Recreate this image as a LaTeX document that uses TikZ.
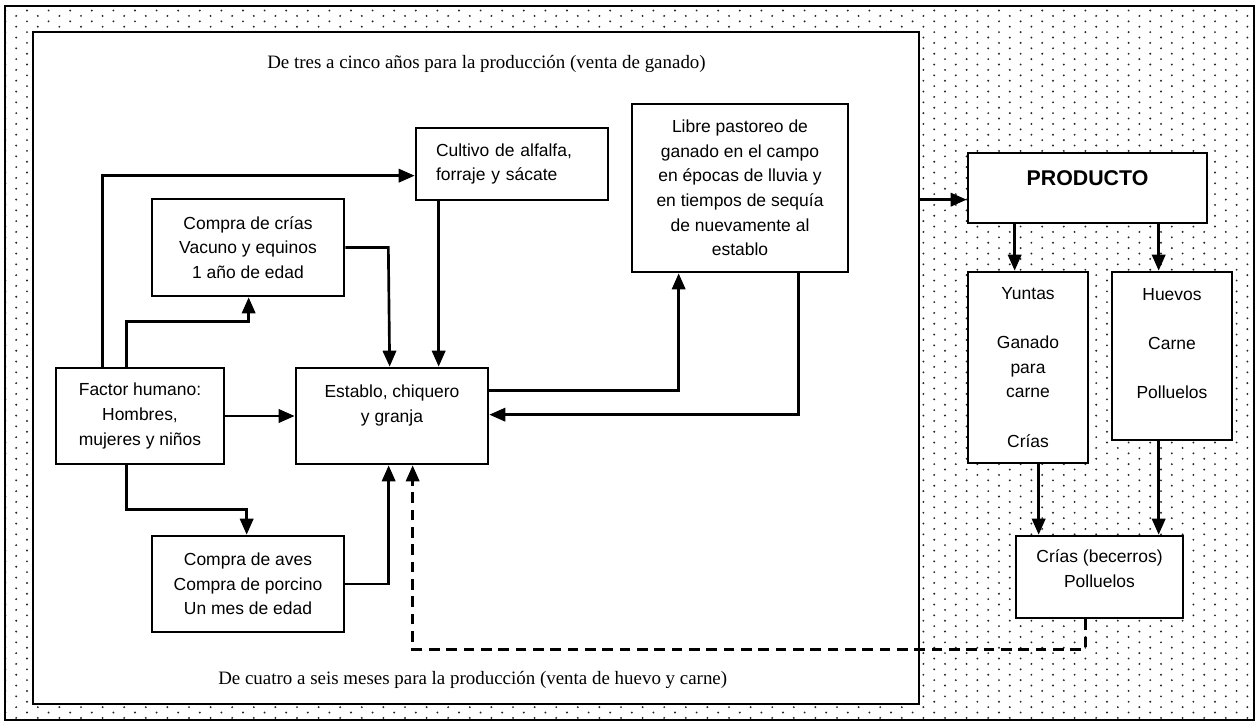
\documentclass[tikz,border=0pt]{standalone}
\usepackage{fontspec}
\setmainfont{Liberation Serif}
\newfontfamily\arialf{Liberation Sans}
\usetikzlibrary{arrows.meta,patterns,calc}

\pgfdeclarepatternformonly{bgdots}{\pgfqpoint{-1pt}{-1pt}}{\pgfqpoint{17.2pt}{9.1pt}}{\pgfqpoint{16.2pt}{8.1pt}}{%
  \pgfpathcircle{\pgfqpoint{4.05pt}{2pt}}{0.8pt}%
  \pgfpathcircle{\pgfqpoint{12.15pt}{6.05pt}}{0.8pt}%
  \pgfusepath{fill}}

\begin{document}
\begin{tikzpicture}[x=0.75pt,y=-0.75pt,
  box/.style={draw, line width=2pt, fill=white, inner sep=0pt, align=center,
    font=\arialf\fontsize{13.1pt}{18.4pt}\selectfont},
  arr/.style={line width=2pt, -{Triangle[length=12pt,width=10pt]}},
  dasharr/.style={arr, dash pattern=on 8pt off 5pt},
  serifnote/.style={inner sep=0pt, anchor=base west, font=\fontsize{14.2pt}{16pt}\selectfont}]

\useasboundingbox (0,0) rectangle (1259,726);

% background frame with dot pattern
\node[draw, line width=1.3pt, pattern=bgdots, pattern color=black!85, inner sep=0pt,
      minimum width=936.75pt, minimum height=535.5pt] (frame) at (629.5,363) {};
% inner white region
\node[draw, line width=2pt, fill=white, inner sep=0pt,
      minimum width=664.5pt, minimum height=504pt] (inner) at (476,368) {};

\node[serifnote] (ttop) at (267,68) {De tres a cinco años para la producción (venta de ganado)};
\node[serifnote] (tbot) at (218,684) {De cuatro a seis meses para la producción (venta de huevo y carne)};

% boxes
\node[box, minimum width=144pt, minimum height=54pt, text width=114pt, align=left] (cultivo) at (512,164)
  {Cultivo de alfalfa,\\forraje y sácate};
\node[box, minimum width=162pt, minimum height=126pt] (libre) at (740,188)
  {Libre pastoreo de\\ganado en el campo\\en épocas de lluvia y\\en tiempos de sequía\\de nuevamente al\\establo};
\node[box, minimum width=144pt, minimum height=72.75pt] (crias) at (248,247.5)
  {Compra de crías\\Vacuno y equinos\\1 año de edad};
\node[box, minimum width=126pt, minimum height=72pt] (factor) at (140,416)
  {Factor humano:\\Hombres,\\mujeres y niños};
\node[box, minimum width=144pt, minimum height=72pt] (establo) at (392,416)
  {Establo, chiquero\\y granja\\~};
\node[box, minimum width=144pt, minimum height=72pt] (aves) at (248,584)
  {Compra de aves\\Compra de porcino\\Un mes de edad};
\node[box, minimum width=179.25pt, minimum height=52.5pt,
      font=\arialf\bfseries\fontsize{16pt}{19pt}\selectfont] (producto) at (1087.5,188)
  {PRODUCTO\\[-4pt]~};
\node[box, minimum width=90pt, minimum height=143.25pt] (yuntas) at (1028,367.5)
  {Yuntas\\~\\Ganado\\para\\carne\\~\\Crías};
\node[box, minimum width=90pt, minimum height=126pt] (huevos) at (1172,356)
  {Huevos\\~\\Carne\\~\\Polluelos\\~};
\node[box, minimum width=125.25pt, minimum height=61.5pt] (becerros) at (1099.5,577)
  {Crías (becerros)\\Polluelos\\[-6pt]~};

% connectors
\draw[arr] ($(factor.north west)+(48,0)$) |- ($(cultivo.north west)+(0,49)$);
\draw[arr] ($(factor.north west)+(72,0)$) -- ++(0,-45) -| ($(crias.south west)+(98,0)$);
\draw[arr] (crias.east) -- ++(43,0) -- ($(establo.north west)+(95,0)$);
\draw[arr] ($(cultivo.south west)+(24,0)$) -- ($(establo.north west)+(144,0)$);
\draw[arr] (factor.east) -- (establo.west);
\draw[arr] ($(factor.south west)+(72,0)$) -- ++(0,44) -| ($(aves.north west)+(96,0)$);
\draw[arr] (aves.east) -| ($(establo.south west)+(94,0)$);
\draw[arr] ($(establo.north east)+(0,24)$) -| ($(libre.south west)+(48,0)$);
\draw[arr] ($(libre.south west)+(168,0)$) |- ($(establo.north east)+(0,48)$);
\coordinate (pa) at ($(producto.north west)+(0,48)$);
\draw[arr] (inner.east |- pa) -- (pa);
\draw[arr] ($(producto.south west)+(48,0)$) -- ($(yuntas.north west)+(48,0)$);
\draw[arr] ($(producto.south west)+(192,0)$) -- ($(huevos.north west)+(48,0)$);
\draw[arr] ($(yuntas.south west)+(72,0)$) -- ($(becerros.north west)+(24,0)$);
\draw[arr] ($(huevos.south west)+(48,0)$) -- ($(becerros.north west)+(144,0)$);
\draw[dasharr] ($(becerros.south west)+(71,0)$) -- ++(0,30) -| ($(establo.south west)+(118,0)$);
\end{tikzpicture}
\end{document}
